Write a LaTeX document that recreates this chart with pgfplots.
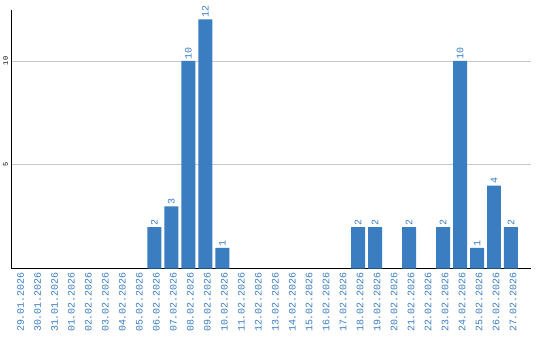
\documentclass[border=0pt]{standalone}
\usepackage{fontspec}
\setmainfont{Liberation Mono}
\usepackage{pgfplots}
\pgfplotsset{compat=1.18}
\definecolor{barblue}{RGB}{58,125,193}
\begin{document}
\begin{tikzpicture}
\begin{axis}[
  scale only axis, width=520bp, height=259bp,
  xmin=-0.41, xmax=30.18, ymin=0, ymax=12.45,
  axis lines=left, axis line style={-, black, line width=0.9bp},
  /pgf/number format/assume math mode=true,
  ytick={5,10}, ymajorgrids, grid style={draw=black!22, line width=0.8bp},
  xtick={0,...,29},
  xticklabels={29.01.2026,30.01.2026,31.01.2026,01.02.2026,02.02.2026,03.02.2026,04.02.2026,05.02.2026,06.02.2026,07.02.2026,08.02.2026,09.02.2026,10.02.2026,11.02.2026,12.02.2026,13.02.2026,14.02.2026,15.02.2026,16.02.2026,17.02.2026,18.02.2026,19.02.2026,20.02.2026,21.02.2026,22.02.2026,23.02.2026,24.02.2026,25.02.2026,26.02.2026,27.02.2026},
  x tick label style={rotate=90, anchor=east, font=\fontsize{10}{10}\selectfont, text=barblue, yshift=-2bp},
  y tick label style={rotate=90, anchor=south, font=\fontsize{7}{7}\selectfont},
  major tick length=0pt,
  ybar, bar width=14bp,
  nodes near coords,
  every node near coord/.append style={rotate=90, anchor=west, text=barblue, font=\fontsize{10}{10}\selectfont, inner sep=1.5bp},
  clip=false,
]
\addplot[fill=barblue, draw=none] coordinates {
  (8,2) (9,3) (10,10) (11,12) (12,1)
  (20,2) (21,2) (23,2) (25,2) (26,10) (27,1) (28,4) (29,2)
};
\end{axis}
\path[use as bounding box] (-11bp,-71bp) rectangle (529bp,269bp);
\end{tikzpicture}
\end{document}
